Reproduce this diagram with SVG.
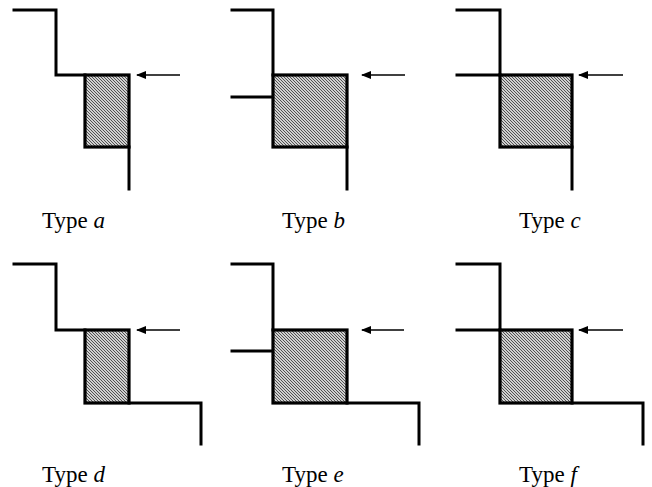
<svg xmlns="http://www.w3.org/2000/svg" width="652" height="487" viewBox="0 0 652 487">
<defs>
<pattern id="hatch" patternUnits="userSpaceOnUse" width="3" height="3">
<rect width="3" height="3" fill="#d0d0d0"/>
<path d="M-1,-1 L4,4 M-1,2 L1,4 M2,-1 L4,1" stroke="#3a3a3a" stroke-width="0.85"/>
</pattern>
<marker id="ah" viewBox="0 0 10 8" refX="9" refY="4" markerWidth="10" markerHeight="8" markerUnits="userSpaceOnUse" orient="auto">
<path d="M0,0 L10,4 L0,8 Z" fill="#000"/>
</marker>
</defs>
<style>
.w{fill:none;stroke:#000;stroke-width:3;stroke-linecap:square;stroke-linejoin:miter}
.box{fill:url(#hatch);stroke:#000;stroke-width:3.2}
.arr{fill:none;stroke:#000;stroke-width:1.3;marker-end:url(#ah)}
.lbl{font-family:"Liberation Serif","Times New Roman",serif;font-size:23px;fill:#000}
.it{font-style:italic}
</style>
<g id="typeA">
<path class="w" d="M14,10 H56 V75 H85"/>
<path class="w" d="M129,147 V189"/>
<rect class="box" x="85" y="75" width="44" height="72"/>
<text class="lbl" x="42" y="228">Type <tspan class="it">a</tspan></text>
</g>
<g id="typeB">
<path class="w" d="M232,10 H273 V75"/>
<path class="w" d="M232,97 H273"/>
<path class="w" d="M347,147 V189"/>
<rect class="box" x="273" y="75" width="74" height="72"/>
<text class="lbl" x="282" y="228">Type <tspan class="it">b</tspan></text>
</g>
<g id="typeC">
<path class="w" d="M457,10 H500 V75"/>
<path class="w" d="M457,75 H500"/>
<path class="w" d="M572,147 V189"/>
<rect class="box" x="500" y="75" width="72" height="72"/>
<text class="lbl" x="519" y="228">Type <tspan class="it">c</tspan></text>
</g>
<g id="typeD">
<path class="w" d="M14,264 H56 V330 H85"/>
<path class="w" d="M129,403 H201 V444"/>
<rect class="box" x="85" y="330" width="44" height="73"/>
<text class="lbl" x="42" y="482">Type <tspan class="it">d</tspan></text>
</g>
<g id="typeE">
<path class="w" d="M232,264 H273 V330"/>
<path class="w" d="M232,351 H273"/>
<path class="w" d="M347,403 H419 V444"/>
<rect class="box" x="273" y="330" width="74" height="73"/>
<text class="lbl" x="282" y="482">Type <tspan class="it">e</tspan></text>
</g>
<g id="typeF">
<path class="w" d="M457,264 H500 V330"/>
<path class="w" d="M457,330 H500"/>
<path class="w" d="M572,403 H643 V444"/>
<rect class="box" x="500" y="330" width="72" height="73"/>
<text class="lbl" x="519" y="482">Type <tspan class="it">f</tspan></text>
</g>
<g id="connectors">
<line class="arr" x1="180" y1="75" x2="137" y2="75"/>
<line class="arr" x1="405" y1="75" x2="362" y2="75"/>
<line class="arr" x1="623" y1="75" x2="579" y2="75"/>
<line class="arr" x1="180" y1="330" x2="137" y2="330"/>
<line class="arr" x1="404" y1="330" x2="362" y2="330"/>
<line class="arr" x1="623" y1="330" x2="579" y2="330"/>
</g>
</svg>
